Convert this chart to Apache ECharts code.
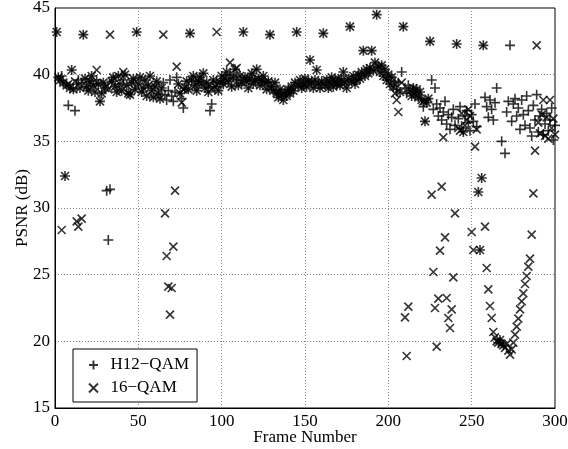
<!DOCTYPE html>
<html>
<head>
<meta charset="utf-8">
<script src="https://cdn.jsdelivr.net/npm/echarts@6/dist/echarts.min.js"></script>
<style>
  html, body { margin: 0; padding: 0; background: #fff; }
  #chart { width: 568px; height: 449px; }
</style>
</head>
<body>
<div id="chart"></div>
<script>
// PSNR per frame, H12-QAM (frames 1..300)
var h12 = [
  43.2, 39.8, 39.6, 39.9, 39.4, 32.4, 39.2, 37.7, 39.0, 40.35, 38.9, 37.3, 39.3, 39.6, 39.0, 39.4, 43.0, 39.7, 39.1, 38.8,
  39.5, 39.9, 39.2, 38.7, 39.6, 39.3, 38.0, 38.6, 39.4, 39.0, 31.3, 27.6, 31.4, 39.5, 39.8, 39.1, 38.7, 39.9, 39.3, 38.8,
  39.6, 40.0, 39.2, 38.6, 38.5, 39.4, 39.7, 38.9, 43.2, 39.3, 39.8, 38.7, 39.0, 39.6, 38.4, 39.2, 39.9, 38.8, 38.3, 39.1,
  39.5, 38.6, 38.2, 39.0, 39.4, 38.5, 38.1, 38.8, 39.6, 38.4, 38.0, 38.7, 39.8, 39.3, 38.6, 38.2, 37.5, 39.0, 39.5, 38.9,
  43.1, 39.6, 39.9, 39.2, 38.8, 39.5, 39.8, 39.3, 40.1, 39.0, 39.4, 38.7, 37.3, 37.8, 39.6, 39.1, 39.5, 38.8, 39.4, 39.9,
  39.3, 39.7, 40.2, 39.5, 40.0, 39.1, 39.8, 40.4, 39.6, 39.2, 39.9, 39.4, 43.2, 39.8, 39.5, 39.0, 39.7, 40.1, 39.3, 39.6,
  40.4, 39.7, 39.2, 39.6, 39.9, 39.4, 38.9, 39.5, 43.0, 39.1, 38.8, 39.4, 38.6, 38.3, 38.9, 38.5, 38.1, 38.7, 38.4, 38.9,
  38.6, 39.1, 38.8, 39.4, 43.2, 39.2, 39.6, 39.0, 39.3, 39.7, 39.1, 39.5, 41.1, 39.4, 39.0, 39.6, 40.35, 39.3, 39.0, 39.5,
  43.1, 39.2, 39.6, 39.0, 39.4, 39.8, 39.1, 39.5, 39.3, 39.7, 39.2, 39.6, 40.2, 39.4, 39.0, 39.7, 43.6, 39.5, 39.9, 39.3,
  39.6, 40.0, 39.7, 40.2, 41.8, 39.9, 40.4, 40.1, 40.5, 41.8, 40.3, 40.9, 44.5, 40.6, 40.2, 40.7, 39.9, 40.4, 39.6, 40.0,
  39.3, 39.8, 39.1, 39.5, 38.9, 39.4, 38.7, 40.2, 43.6, 39.0, 38.6, 39.2, 38.8, 38.4, 39.0, 38.5, 38.9, 38.3, 38.7, 38.1,
  37.6, 36.5, 37.9, 38.2, 42.5, 39.6, 37.4, 39.0, 37.8, 36.9, 37.5, 36.6, 37.2, 38.0, 36.3, 37.0, 35.9, 36.8, 37.4, 36.2,
  42.3, 36.7, 37.6, 36.0, 35.7, 36.9, 37.3, 36.4, 35.8, 37.0, 36.5, 37.8, 36.1, 31.2, 26.85, 32.25, 42.2, 38.3, 37.6, 36.8,
  38.1, 37.4, 36.6, 37.9, 39.0, 19.9, 20.1, 35.0, 19.7, 34.1, 37.2, 38.0, 42.2, 36.5, 37.8, 38.2, 36.9, 37.5, 35.9, 38.1,
  37.0, 36.2, 38.4, 37.3, 36.0, 35.4, 37.7, 36.6, 38.5, 35.7, 36.9, 37.4, 35.5, 36.3, 37.1, 35.8, 36.6, 37.5, 35.1, 36.2
];

// 16-QAM frames whose PSNR differs from H12-QAM: [frame, psnr]
var qam16Diff = [
  [4, 28.35], [8, 39.3], [12, 39.5], [13, 29.0], [14, 28.6], [16, 29.2], [25, 40.35],
  [31, 39.2], [32, 38.9], [33, 43.0], [41, 40.2], [65, 43.0], [66, 29.6], [67, 26.4],
  [68, 24.1], [69, 22.0], [70, 24.0], [71, 27.1], [72, 31.3], [73, 40.6], [76, 37.9],
  [77, 38.9], [93, 39.2], [94, 38.9], [97, 43.2], [105, 40.9], [109, 40.5],
  [204, 38.6], [205, 38.1], [206, 37.2], [208, 39.4], [210, 21.8], [211, 18.9], [212, 22.6],
  [221, 38.0], [226, 31.0], [227, 25.2], [228, 22.5], [229, 19.6], [230, 23.2], [231, 26.8],
  [232, 31.6], [233, 35.3], [234, 27.8], [235, 23.25], [236, 21.75], [237, 21.0], [238, 22.4],
  [239, 24.8], [240, 29.6], [242, 36.0], [243, 35.8], [244, 37.1], [246, 36.2], [247, 36.6],
  [248, 37.4], [249, 36.9], [250, 28.2], [251, 26.85], [252, 34.6], [253, 35.9],
  [258, 28.6], [259, 25.5], [260, 23.9], [261, 22.65], [262, 21.75], [263, 20.7], [264, 20.3],
  [265, 20.0], [268, 19.8], [270, 19.5], [271, 19.8], [272, 19.3], [273, 19.0], [274, 19.4],
  [275, 19.9], [276, 20.5], [277, 21.1], [278, 21.7], [279, 22.4], [280, 23.0], [281, 23.6],
  [282, 24.3], [283, 24.9], [284, 25.6], [285, 26.2], [286, 28.0], [287, 31.1], [288, 34.3],
  [289, 42.2], [290, 36.4], [291, 35.6], [292, 37.0], [293, 38.1], [294, 35.4], [295, 36.8],
  [296, 35.2], [297, 38.1], [298, 36.0], [299, 36.7], [300, 35.5]
];

var xTicks = [0, 50, 100, 150, 200, 250, 300];
var yTicks = [15, 20, 25, 30, 35, 40, 45];
var names = ['H12\u2212QAM', '16\u2212QAM'];

var plusPath = 'path://M5,0L5,10M0,5L10,5';
var crossPath = 'path://M0,0L10,10M10,0L0,10';
var font = 'Liberation Serif';

var h12Data = h12.map(function (v, i) { return [i + 1, v]; });
var q16Values = h12.slice();
qam16Diff.forEach(function (d) { q16Values[d[0] - 1] = d[1]; });
var q16Data = q16Values.map(function (v, i) { return [i + 1, v]; });

var chart = echarts.init(document.getElementById('chart'), null, { renderer: 'canvas' });

var gridLine = { show: true, lineStyle: { color: '#888', type: [1, 2], width: 1 } };

var option = {
  animation: false,
  backgroundColor: '#fff',
  grid: {
    left: 55, right: 13, top: 8, bottom: 41,
    outerBoundsMode: 'none',
    containLabel: false,
    show: true, borderColor: '#000', borderWidth: 1
  },
  legend: {
    orient: 'vertical',
    left: 73, top: 349,
    padding: [6, 8, 4, 15],
    itemGap: 3,
    itemWidth: 24, itemHeight: 9,
    backgroundColor: '#fff',
    borderColor: '#000', borderWidth: 1,
    textStyle: { fontFamily: font, fontSize: 17, color: '#000', lineHeight: 20 },
    data: names
  },
  xAxis: {
    type: 'value',
    min: xTicks[0], max: xTicks[xTicks.length - 1], interval: 50,
    name: 'Frame Number',
    nameLocation: 'middle', nameGap: 21,
    nameMoveOverlap: false,
    nameTextStyle: { fontFamily: font, fontSize: 17, color: '#000' },
    axisLine: { show: true, lineStyle: { color: '#000' } },
    axisTick: { show: false },
    axisLabel: { fontFamily: font, fontSize: 17, color: '#000', margin: 5 },
    splitLine: gridLine
  },
  yAxis: {
    type: 'value',
    min: yTicks[0], max: yTicks[yTicks.length - 1], interval: 5,
    name: 'PSNR (dB)',
    nameLocation: 'middle', nameGap: 24,
    nameMoveOverlap: false,
    nameTextStyle: { fontFamily: font, fontSize: 17, color: '#000' },
    axisLine: { show: true, lineStyle: { color: '#000' } },
    axisTick: { show: false },
    axisLabel: { fontFamily: font, fontSize: 17, color: '#000', margin: 5 },
    splitLine: gridLine
  },
  series: [
    {
      name: names[0],
      type: 'scatter',
      symbol: plusPath,
      symbolSize: 10,
      itemStyle: { color: 'rgba(0,0,0,0)', borderColor: '#000', borderWidth: 1.6 },
      data: h12Data
    },
    {
      name: names[1],
      type: 'scatter',
      symbol: crossPath,
      symbolSize: 8,
      itemStyle: { color: 'rgba(0,0,0,0)', borderColor: '#000', borderWidth: 1.6 },
      data: q16Data
    }
  ]
};

chart.setOption(option);
</script>
</body>
</html>
